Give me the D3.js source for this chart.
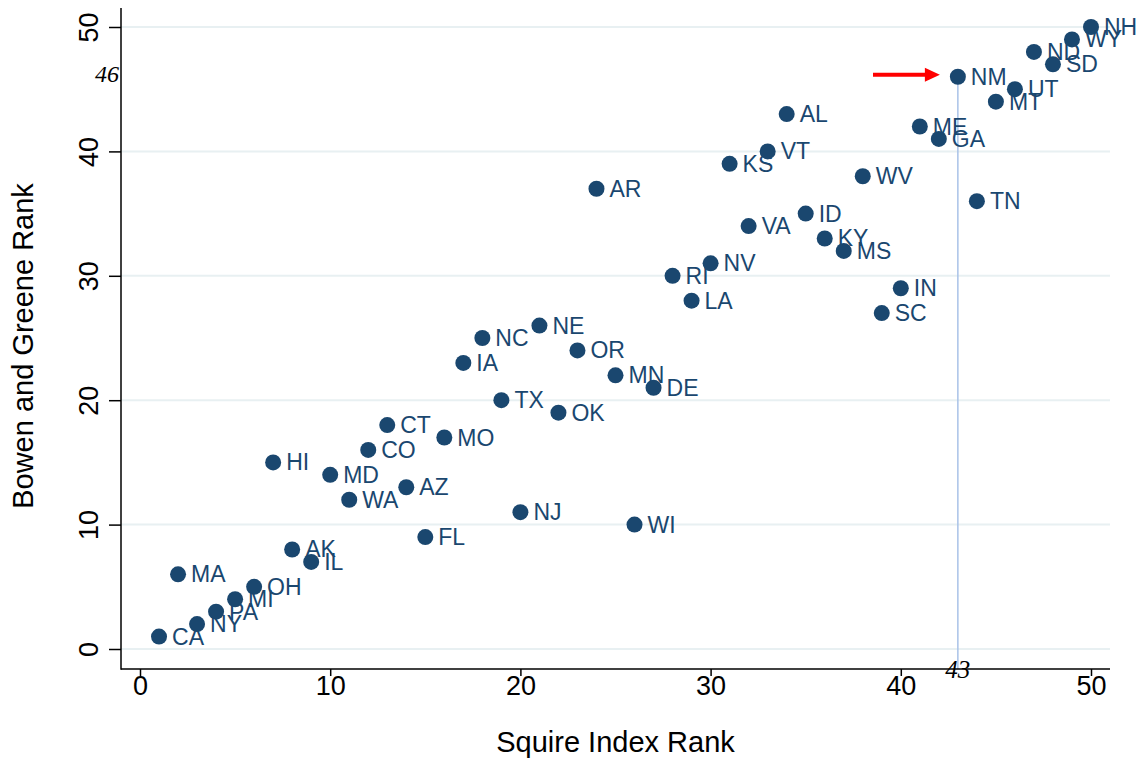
<!DOCTYPE html>
<html>
<head>
<meta charset="utf-8">
<script src="https://cdn.jsdelivr.net/npm/d3@7"></script>
<style>
  html, body { margin: 0; padding: 0; background: #fff; }
  svg { display: block; }
</style>
</head>
<body>
<svg id="chart" width="1136" height="761"></svg>
<script>
// ---- data ----
const states = ["NH","WY","ND","SD","NM","UT","MT","AL","ME","GA",
                "VT","KS","WV","AR","TN","ID","VA","KY","MS","NV",
                "RI","IN","LA","SC","NE","NC","OR","IA","MN","DE",
                "TX","OK","CT","MO","CO","HI","MD","AZ","WA","NJ",
                "WI","FL","AK","IL","MA","OH","MI","PA","NY","CA"];
const squireRank = [50,49,47,48,43,46,45,34,41,42,
                    33,31,38,24,44,35,32,36,37,30,
                    28,40,29,39,21,18,23,17,25,27,
                    19,22,13,16,12,7,10,14,11,20,
                    26,15,8,9,2,6,5,4,3,1];
const bgRank = [50,49,48,47,46,45,44,43,42,41,
                40,39,38,37,36,35,34,33,32,31,
                30,29,28,27,26,25,24,23,22,21,
                20,19,18,17,16,15,14,13,12,11,
                10,9,8,7,6,5,4,3,2,1];
const xTicks = [0,10,20,30,40,50];
const yTicks = [0,10,20,30,40,50];
const highlight = { x: 43, y: 46, xLabel: "43", yLabel: "46" };
const xTitle = "Squire Index Rank";
const yTitle = "Bowen and Greene Rank";

// ---- layout ----
const svg = d3.select("#chart");
const plot = { left: 121, right: 1110, top: 8, bottom: 669 };
const x = d3.scaleLinear().domain([0, 50]).range([140, 1091]);
const y = d3.scaleLinear().domain([0, 50]).range([649, 27]);
const navy = "#1a476f";
const sans = "'Liberation Sans', Arial, Helvetica, sans-serif";
const serif = "'Liberation Serif', 'Times New Roman', serif";

const data = states.map((s, i) => ({ s, x: squireRank[i], y: bgRank[i] }));

// gridlines
svg.append("g").selectAll("line").data(yTicks).join("line")
  .attr("x1", plot.left).attr("x2", plot.right)
  .attr("y1", d => y(d)).attr("y2", d => y(d))
  .attr("stroke", "#e8f0f2").attr("stroke-width", 2);

// reference line
svg.append("line")
  .attr("x1", x(highlight.x)).attr("x2", x(highlight.x))
  .attr("y1", y(highlight.y)).attr("y2", plot.bottom)
  .attr("stroke", "#a9c2e8").attr("stroke-width", 1.5);

// points
svg.append("g").selectAll("circle").data(data).join("circle")
  .attr("cx", d => x(d.x)).attr("cy", d => y(d.y)).attr("r", 8)
  .attr("fill", navy);

// labels
svg.append("g").selectAll("text").data(data).join("text")
  .attr("x", d => x(d.x) + 13).attr("y", d => y(d.y) + 8)
  .attr("font-family", sans).attr("font-size", 23)
  .attr("fill", navy)
  .text(d => d.s);

// axes
const yAxis = d3.axisLeft(y).tickValues(yTicks).tickSize(12).tickPadding(10);
const gy = svg.append("g").attr("transform", `translate(${plot.left},0)`).call(yAxis);
gy.select(".domain").remove();
gy.selectAll(".tick line").attr("stroke", "#000").attr("stroke-width", 1.5);
gy.selectAll(".tick text")
  .attr("font-family", sans).attr("font-size", 27).attr("fill", "#000")
  .attr("text-anchor", "middle")
  .attr("x", null).attr("dy", null)
  .attr("transform", d => `translate(${98 - plot.left},0) rotate(-90)`)
  .attr("y", 0);

const xAxis = d3.axisBottom(x).tickValues(xTicks).tickSize(7).tickPadding(0);
const gx = svg.append("g").attr("transform", `translate(0,${plot.bottom})`).call(xAxis);
gx.select(".domain").remove();
gx.selectAll(".tick line").attr("stroke", "#000").attr("stroke-width", 1.5);
gx.selectAll(".tick text")
  .attr("font-family", sans).attr("font-size", 27).attr("fill", "#000")
  .attr("dy", null).attr("y", 26);

// axis lines
svg.append("line").attr("x1", plot.left).attr("x2", plot.left)
  .attr("y1", plot.top).attr("y2", plot.bottom + 0.75)
  .attr("stroke", "#000").attr("stroke-width", 1.5);
svg.append("line").attr("x1", plot.left).attr("x2", plot.right)
  .attr("y1", plot.bottom).attr("y2", plot.bottom)
  .attr("stroke", "#000").attr("stroke-width", 1.5);

// annotation numbers
svg.append("text").attr("x", x(highlight.x)).attr("y", plot.bottom + 9)
  .attr("text-anchor", "middle").attr("font-family", serif)
  .attr("font-style", "italic").attr("font-size", 25).attr("fill", "#000")
  .text(highlight.xLabel);
svg.append("text").attr("x", 107).attr("y", y(highlight.y) + 5)
  .attr("text-anchor", "middle").attr("font-family", serif)
  .attr("font-style", "italic").attr("font-size", 24).attr("fill", "#000")
  .text(highlight.yLabel);

// red arrow
const ay = y(highlight.y) - 2;
const tipX = x(highlight.x) - 18;
svg.append("line").attr("x1", 873).attr("x2", tipX - 12)
  .attr("y1", ay).attr("y2", ay)
  .attr("stroke", "#ff0000").attr("stroke-width", 4);
svg.append("path")
  .attr("d", `M${tipX},${ay} L${tipX - 15},${ay - 7} L${tipX - 15},${ay + 7} Z`)
  .attr("fill", "#ff0000");

// axis titles
svg.append("text").attr("x", (plot.left + plot.right) / 2).attr("y", 752)
  .attr("text-anchor", "middle").attr("font-family", sans)
  .attr("font-size", 29).attr("fill", "#000").text(xTitle);
svg.append("text")
  .attr("transform", `translate(33,346) rotate(-90)`)
  .attr("text-anchor", "middle").attr("font-family", sans)
  .attr("font-size", 29).attr("fill", "#000").text(yTitle);
</script>
</body>
</html>
